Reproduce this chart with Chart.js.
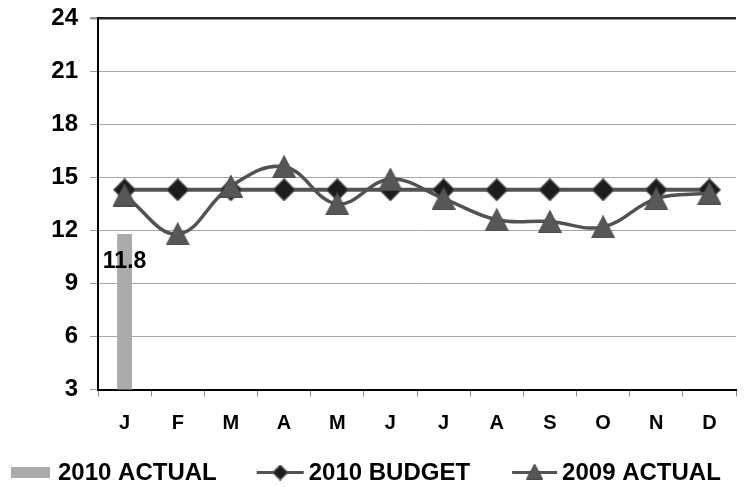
<!DOCTYPE html>
<html>
<head>
<meta charset="utf-8">
<script src="https://cdn.jsdelivr.net/npm/chart.js@4/dist/chart.umd.min.js"></script>
<style>
  html, body { margin: 0; padding: 0; background: #ffffff; }
  #wrap { width: 744px; height: 487px; position: relative; }
</style>
</head>
<body>
<div id="wrap"><canvas id="chart" width="744" height="487"></canvas></div>
<script>
// Monthly figures
const months = ['J', 'F', 'M', 'A', 'M', 'J', 'J', 'A', 'S', 'O', 'N', 'D'];
const actual2010 = [11.8, null, null, null, null, null, null, null, null, null, null, null];
const budget2010 = [14.3, 14.3, 14.3, 14.3, 14.3, 14.3, 14.3, 14.3, 14.3, 14.3, 14.3, 14.3];
const actual2009 = [14.0, 11.8, 14.5, 15.6, 13.5, 14.9, 13.8, 12.6, 12.5, 12.2, 13.8, 14.1];
const yTicks = [3, 6, 9, 12, 15, 18, 21, 24];
const seriesNames = ['2010 ACTUAL', '2010 BUDGET', '2009 ACTUAL'];

const FONT = '"Liberation Sans", Arial, Helvetica, sans-serif';
const LINE_GREY = '#525252';
const BAR_GREY = '#ababab';

// Marker sprites: an isosceles triangle and a diamond, centred on their box
function triangleSprite(w, h) {
  const c = document.createElement('canvas');
  c.width = w; c.height = h;
  const g = c.getContext('2d');
  g.beginPath();
  g.moveTo(w / 2, 0.5);
  g.lineTo(w - 0.5, h - 0.5);
  g.lineTo(0.5, h - 0.5);
  g.closePath();
  g.fillStyle = '#575757';
  g.fill();
  g.lineWidth = 1;
  g.strokeStyle = '#4a4a4a';
  g.stroke();
  return c;
}
function diamondSprite(s) {
  const c = document.createElement('canvas');
  c.width = s; c.height = s;
  const g = c.getContext('2d');
  g.beginPath();
  g.moveTo(s / 2, 0.5);
  g.lineTo(s - 0.5, s / 2);
  g.lineTo(s / 2, s - 0.5);
  g.lineTo(0.5, s / 2);
  g.closePath();
  g.fillStyle = '#1c1c1c';
  g.fill();
  g.lineWidth = 1.2;
  g.strokeStyle = '#5a5a5a';
  g.stroke();
  return c;
}
const triMarker = triangleSprite(24, 23);
const diaMarker = diamondSprite(23);
const triSmall = triangleSprite(17, 16);
const diaSmall = diamondSprite(16);

// Value label above the January bar
const barValueLabel = {
  id: 'barValueLabel',
  afterDatasetsDraw(chart) {
    const meta = chart.getDatasetMeta(0);
    const ctx = chart.ctx;
    ctx.save();
    ctx.font = 'bold 23px ' + FONT;
    ctx.fillStyle = '#000000';
    ctx.textAlign = 'center';
    ctx.textBaseline = 'alphabetic';
    meta.data.forEach((bar, i) => {
      const v = actual2010[i];
      if (v === null || v === undefined) return;
      ctx.fillText(v.toFixed(1), bar.x, bar.y + 34);
    });
    ctx.restore();
  }
};

// Legend row along the bottom: swatch or line-with-marker, then the name
const bottomLegend = {
  id: 'bottomLegend',
  afterDraw(chart) {
    const ctx = chart.ctx;
    const cy = 472.5;
    ctx.save();
    ctx.font = 'bold 24px ' + FONT;
    ctx.fillStyle = '#000000';
    ctx.textBaseline = 'middle';
    ctx.textAlign = 'left';
    let x = 11;
    // 2010 ACTUAL: grey swatch
    ctx.fillStyle = BAR_GREY;
    ctx.fillRect(x, cy - 5.5, 39, 11);
    x += 39 + 8;
    ctx.fillStyle = '#000000';
    ctx.fillText(seriesNames[0], x, cy + 1);
    x += ctx.measureText(seriesNames[0]).width + 40;
    // 2010 BUDGET: line with diamond
    ctx.strokeStyle = LINE_GREY;
    ctx.lineWidth = 3;
    ctx.beginPath(); ctx.moveTo(x, cy); ctx.lineTo(x + 47, cy); ctx.stroke();
    ctx.drawImage(diaSmall, x + 23.5 - 8, cy - 8);
    x += 47 + 5;
    ctx.fillText(seriesNames[1], x, cy + 1);
    x += ctx.measureText(seriesNames[1]).width + 42;
    // 2009 ACTUAL: line with triangle
    ctx.beginPath(); ctx.moveTo(x, cy); ctx.lineTo(x + 45, cy); ctx.stroke();
    ctx.drawImage(triSmall, x + 22.5 - 8.5, cy - 9);
    x += 45 + 5;
    ctx.fillText(seriesNames[2], x, cy + 1);
    ctx.restore();
  }
};

new Chart(document.getElementById('chart'), {
  data: {
    labels: months,
    datasets: [
      {
        type: 'bar',
        label: seriesNames[0],
        data: actual2010,
        backgroundColor: BAR_GREY,
        borderWidth: 0,
        barPercentage: 0.35,
        categoryPercentage: 0.8,
        order: 2
      },
      {
        type: 'line',
        label: seriesNames[1],
        data: budget2010,
        borderColor: LINE_GREY,
        borderWidth: 4,
        pointStyle: diaMarker,
        tension: 0,
        fill: false,
        order: 1
      },
      {
        type: 'line',
        label: seriesNames[2],
        data: actual2009,
        borderColor: LINE_GREY,
        borderWidth: 3.5,
        pointStyle: triMarker,
        tension: 0.4,
        fill: false,
        order: 0
      }
    ]
  },
  options: {
    responsive: false,
    animation: false,
    devicePixelRatio: 1,
    layout: { padding: { top: 18.3, right: 0, bottom: 47.5, left: 0 } },
    plugins: {
      legend: { display: false },
      tooltip: { enabled: false }
    },
    scales: {
      x: {
        offset: true,
        grid: {
          offset: true,
          drawOnChartArea: false,
          drawTicks: true,
          tickLength: 7,
          color: '#8a8a8a',
          lineWidth: 1
        },
        border: { display: true, color: '#000000', width: 2 },
        ticks: {
          color: '#000000',
          font: { family: FONT, size: 20, weight: 'bold' },
          padding: 15,
          maxRotation: 0,
          autoSkip: false
        },
        afterFit(scale) { scale.height = 50; scale.paddingLeft = 0; scale.paddingRight = 0; }
      },
      y: {
        min: yTicks[0],
        max: yTicks[yTicks.length - 1],
        afterBuildTicks(scale) { scale.ticks = yTicks.map(v => ({ value: v })); },
        grid: {
          color: ctx => (ctx.tick && ctx.tick.value === yTicks[yTicks.length - 1]) ? '#262626' : '#a6a6a6',
          lineWidth: ctx => (ctx.tick && ctx.tick.value === yTicks[yTicks.length - 1]) ? 2.5 : 1,
          tickColor: '#9a9a9a',
          tickLength: 8,
          drawTicks: true
        },
        border: { display: true, color: '#000000', width: 2 },
        ticks: {
          color: '#000000',
          font: { family: FONT, size: 24, weight: 'bold' },
          padding: 12
        },
        afterFit(scale) { scale.width = 98; scale.paddingTop = 0; scale.paddingBottom = 0; }
      }
    }
  },
  plugins: [barValueLabel, bottomLegend]
});
</script>
</body>
</html>
